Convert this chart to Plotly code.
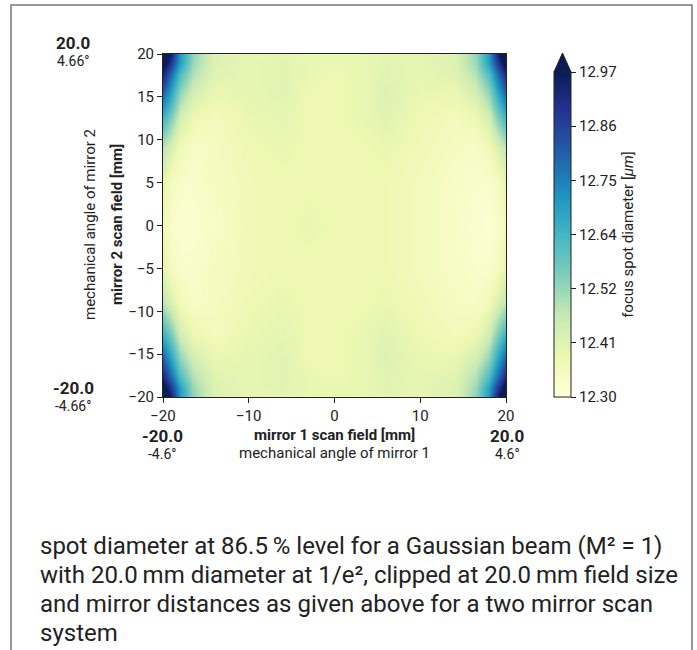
import plotly.graph_objects as go

# ---- data ----
x_nodes = [-20, -19, -18, -16.5, -14, -10, -6, -3, 0, 3, 6, 10, 14, 16.5, 18, 19, 20]
y_nodes = [-20, -19, -17.5, -15.5, -12.5, -9, -5, 0, 5, 9, 12.5, 15.5, 17.5, 19, 20]

# rows from bottom (y=-20) to top (y=20), spot diameter in micrometres
z_rows = [
    [13.12, 12.92, 12.70, 12.53, 12.42, 12.40, 12.40, 12.39, 12.39, 12.39, 12.40, 12.40, 12.42, 12.53, 12.70, 12.92, 13.12],
    [13.03, 12.86, 12.69, 12.52, 12.42, 12.40, 12.41, 12.39, 12.39, 12.39, 12.41, 12.40, 12.42, 12.52, 12.69, 12.86, 13.03],
    [12.92, 12.76, 12.61, 12.49, 12.41, 12.40, 12.41, 12.39, 12.38, 12.39, 12.41, 12.40, 12.41, 12.49, 12.61, 12.76, 12.92],
    [12.80, 12.66, 12.53, 12.44, 12.39, 12.40, 12.41, 12.38, 12.38, 12.39, 12.42, 12.39, 12.39, 12.44, 12.53, 12.66, 12.80],
    [12.64, 12.54, 12.44, 12.38, 12.36, 12.39, 12.40, 12.38, 12.38, 12.39, 12.41, 12.38, 12.36, 12.38, 12.44, 12.54, 12.64],
    [12.48, 12.42, 12.37, 12.34, 12.35, 12.38, 12.39, 12.38, 12.38, 12.38, 12.39, 12.37, 12.35, 12.34, 12.37, 12.42, 12.48],
    [12.40, 12.35, 12.33, 12.33, 12.35, 12.37, 12.38, 12.38, 12.38, 12.38, 12.38, 12.36, 12.34, 12.33, 12.33, 12.35, 12.40],
    [12.37, 12.33, 12.32, 12.32, 12.34, 12.37, 12.38, 12.39, 12.38, 12.38, 12.38, 12.36, 12.34, 12.32, 12.31, 12.33, 12.37],
    [12.40, 12.35, 12.33, 12.33, 12.35, 12.37, 12.38, 12.38, 12.38, 12.38, 12.38, 12.36, 12.34, 12.33, 12.33, 12.35, 12.40],
    [12.48, 12.42, 12.37, 12.34, 12.35, 12.38, 12.39, 12.38, 12.38, 12.38, 12.39, 12.37, 12.35, 12.34, 12.37, 12.42, 12.48],
    [12.64, 12.54, 12.44, 12.38, 12.36, 12.39, 12.40, 12.38, 12.38, 12.39, 12.41, 12.38, 12.36, 12.38, 12.44, 12.54, 12.64],
    [12.80, 12.66, 12.53, 12.44, 12.39, 12.40, 12.41, 12.38, 12.38, 12.39, 12.42, 12.39, 12.39, 12.44, 12.53, 12.66, 12.80],
    [12.92, 12.76, 12.61, 12.49, 12.41, 12.40, 12.41, 12.39, 12.38, 12.39, 12.41, 12.40, 12.41, 12.49, 12.61, 12.76, 12.92],
    [13.03, 12.86, 12.69, 12.52, 12.42, 12.40, 12.41, 12.39, 12.39, 12.39, 12.41, 12.40, 12.42, 12.52, 12.69, 12.86, 13.03],
    [13.12, 12.92, 12.70, 12.53, 12.42, 12.40, 12.40, 12.39, 12.39, 12.39, 12.40, 12.40, 12.42, 12.53, 12.70, 12.92, 13.12],
]

z_min, z_max = 12.30, 12.97
cbar_tickvals = [12.30, 12.4117, 12.5233, 12.635, 12.7467, 12.8583, 12.97]
cbar_ticktext = ["12.30", "12.41", "12.52", "12.64", "12.75", "12.86", "12.97"]
x_ticks = [-20, -10, 0, 10, 20]
y_ticks = [-20, -15, -10, -5, 0, 5, 10, 15, 20]

caption_lines = [
    "spot diameter at 86.5\u2009% level for a Gaussian beam (M² = 1)",
    "with 20.0\u2009mm diameter at 1/e², clipped at 20.0\u2009mm field size",
    "and mirror distances as given above for a two mirror scan",
    "system",
]

ylgnbu = [
    [0.0, "#ffffd9"], [0.125, "#edf8b1"], [0.25, "#c7e9b4"], [0.375, "#7fcdbb"],
    [0.5, "#41b6c4"], [0.625, "#1d91c0"], [0.75, "#225ea8"], [0.875, "#253494"],
    [1.0, "#081d58"],
]

# ---- layout geometry (pixels) ----
W, H = 697, 650
PL, PR, PT, PB = 163, 506, 54, 397
PW = PR - PL
PH = PB - PT

def px(xp):
    return (xp - PL) / PW

def py(yp):
    return (PB - yp) / PH

FONT = "Roboto"
TXT = "#222222"

fig = go.Figure()
fig.add_trace(go.Heatmap(
    x=x_nodes, y=y_nodes, z=z_rows,
    zmin=z_min, zmax=z_max, zsmooth="best",
    colorscale=ylgnbu,
    colorbar=dict(
        x=px(554), xanchor="left", xref="paper", xpad=0,
        y=0, yanchor="bottom", yref="paper", ypad=0,
        lenmode="pixels", len=325, thickness=17,
        outlinewidth=1, outlinecolor="#222222",
        ticks="outside", ticklen=5, tickwidth=1, tickcolor="#222222",
        tickvals=cbar_tickvals, ticktext=cbar_ticktext,
        tickfont=dict(family=FONT, size=15, color=TXT),
        title=dict(text="focus spot diameter [<i>μm</i>]", side="right",
                   font=dict(family=FONT, size=15, color=TXT)),
    ),
    showscale=True,
))

axis_common = dict(
    showgrid=False, zeroline=False, showline=True, linecolor="#222222", linewidth=1,
    mirror=True, ticks="outside", ticklen=5, tickwidth=1, tickcolor="#222222",
    tickfont=dict(family=FONT, size=15, color=TXT),
)
fig.update_xaxes(range=[-20, 20], tickvals=x_ticks, **axis_common)
fig.update_yaxes(range=[-20, 20], tickvals=y_ticks, **axis_common)

ann = []
def add_text(xp, yp, text, size, bold=False, xanchor="center", yanchor="middle", textangle=0, align="center"):
    ann.append(dict(
        x=px(xp), y=py(yp), xref="paper", yref="paper", showarrow=False,
        text=f"<b>{text}</b>" if bold else text, textangle=textangle, align=align,
        xanchor=xanchor, yanchor=yanchor, borderpad=0, borderwidth=0,
        font=dict(family=FONT, size=size, color=TXT),
    ))

def add_pair(xp, y_split, top_text, bottom_text, top_size=17, bottom_size=14):
    # bold value above, angle below, stacked tightly at y_split
    add_text(xp, y_split, top_text, top_size, bold=True, yanchor="bottom")
    add_text(xp, y_split, bottom_text, bottom_size, yanchor="top")

# corner labels
add_pair(73, 53, "20.0", "4.66°")
add_pair(73, 398, "-20.0", "-4.66°")
add_pair(162, 446, "-20.0", "-4.6°")
add_pair(507, 446, "20.0", "4.6°")
# axis titles
add_pair(334, 444, "mirror 1 scan field [mm]", "mechanical angle of mirror 1", 15, 15)
add_text(117, 225, "mirror 2 scan field [mm]", 15, bold=True, textangle=-90)
add_text(90, 225, "mechanical angle of mirror 2", 15, textangle=-90)
# caption, one annotation per line
for i, line in enumerate(caption_lines):
    add_text(40, 546 + 29 * i, line, 24, xanchor="left", align="left")

shapes = [
    # extend triangle on top of colorbar
    dict(type="path", xref="paper", yref="paper",
         path=f"M {px(554)} {py(72)} L {px(562.5)} {py(53)} L {px(571)} {py(72)} Z",
         fillcolor="#081d58", line=dict(color="#222222", width=1)),
    # outer frame (left, top, right)
    dict(type="path", xref="paper", yref="paper",
         path=f"M {px(11)} {py(670)} L {px(11)} {py(5)} L {px(692)} {py(5)} L {px(692)} {py(670)}",
         line=dict(color="#777777", width=1.5)),
]

fig.update_layout(
    width=W, height=H,
    margin=dict(l=PL, r=W - PR, t=PT, b=H - PB, pad=0),
    paper_bgcolor="white", plot_bgcolor="white",
    annotations=ann, shapes=shapes,
    font=dict(family=FONT, color=TXT),
)

fig.write_html("out.html")
